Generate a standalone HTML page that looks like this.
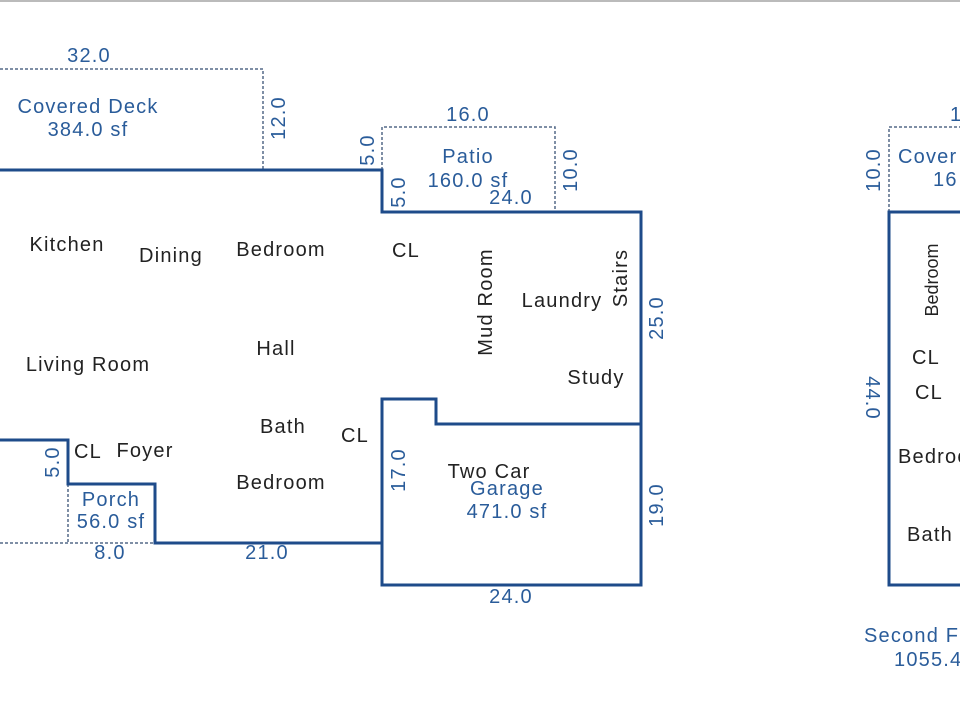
<!DOCTYPE html>
<html><head><meta charset="utf-8"><style>body{margin:0;background:#fff}svg{display:block}</style></head><body>
<svg width="960" height="720" xmlns="http://www.w3.org/2000/svg" font-family="Liberation Sans, Arial, sans-serif" font-size="20" letter-spacing="1.2">
<line x1="0" y1="1" x2="960" y2="1" stroke="#bbb" stroke-width="2"/>
<g fill="none" stroke="#556a88" stroke-width="1.5" stroke-dasharray="3,2">
<path d="M0 69H263V170"/>
<path d="M382 170V127H555V212"/>
<path d="M0 543H155M68 484V543"/>
<path d="M889 212V127H960"/>
</g>
<g fill="none" stroke="#1e4b8a" stroke-width="3">
<path d="M0 170H382V212H641V424H436V399H382V585H641V424"/>
<path d="M0 440H68V484H155V543H382"/>
<path d="M960 212H889V585H960"/>
</g>
<g fill="#2a5c9a" text-anchor="middle">
<text x="89" y="62">32.0</text>
<text x="88" y="113">Covered Deck</text>
<text x="88" y="136">384.0 sf</text>
<text x="468" y="121">16.0</text>
<text x="468" y="163">Patio</text>
<text x="468" y="187">160.0 sf</text>
<text x="511" y="204">24.0</text>
<text x="111" y="506">Porch</text>
<text x="111" y="528">56.0 sf</text>
<text x="110" y="559">8.0</text>
<text x="267" y="559">21.0</text>
<text x="507" y="495">Garage</text>
<text x="507" y="518">471.0 sf</text>
<text x="511" y="603">24.0</text>
<text transform="translate(285,118) rotate(-90)">12.0</text>
<text transform="translate(374,150) rotate(-90)">5.0</text>
<text transform="translate(405,192) rotate(-90)">5.0</text>
<text transform="translate(577,170) rotate(-90)">10.0</text>
<text transform="translate(663,318) rotate(-90)">25.0</text>
<text transform="translate(663,505) rotate(-90)">19.0</text>
<text transform="translate(405,470) rotate(-90)">17.0</text>
<text transform="translate(59,462) rotate(-90)">5.0</text>
<text transform="translate(880,170) rotate(-90)">10.0</text>
<text transform="translate(866,398) rotate(90)">44.0</text>
<text x="950" y="121" text-anchor="start">1</text>
<text x="898" y="163" text-anchor="start">Cover</text>
<text x="933" y="186" text-anchor="start">16</text>
<text x="864" y="642" text-anchor="start">Second F</text>
<text x="894" y="666" text-anchor="start">1055.4</text>
</g>
<g fill="#222" text-anchor="middle">
<text x="67" y="251">Kitchen</text>
<text x="171" y="262">Dining</text>
<text x="281" y="256">Bedroom</text>
<text x="406" y="257">CL</text>
<text transform="translate(492,302) rotate(-90)">Mud Room</text>
<text x="562" y="307">Laundry</text>
<text transform="translate(627,278) rotate(-90)">Stairs</text>
<text x="88" y="371">Living Room</text>
<text x="276" y="355">Hall</text>
<text x="596" y="384">Study</text>
<text x="283" y="433">Bath</text>
<text x="355" y="442">CL</text>
<text x="88" y="458">CL</text>
<text x="145" y="457">Foyer</text>
<text x="281" y="489">Bedroom</text>
<text x="489" y="478">Two Car</text>
<text transform="translate(938,280) rotate(-90)" font-size="18" letter-spacing="0">Bedroom</text>
<text x="926" y="364">CL</text>
<text x="929" y="399">CL</text>
<text x="898" y="463" text-anchor="start">Bedroom</text>
<text x="907" y="541" text-anchor="start">Bath</text>
</g>
</svg>
</body></html>
